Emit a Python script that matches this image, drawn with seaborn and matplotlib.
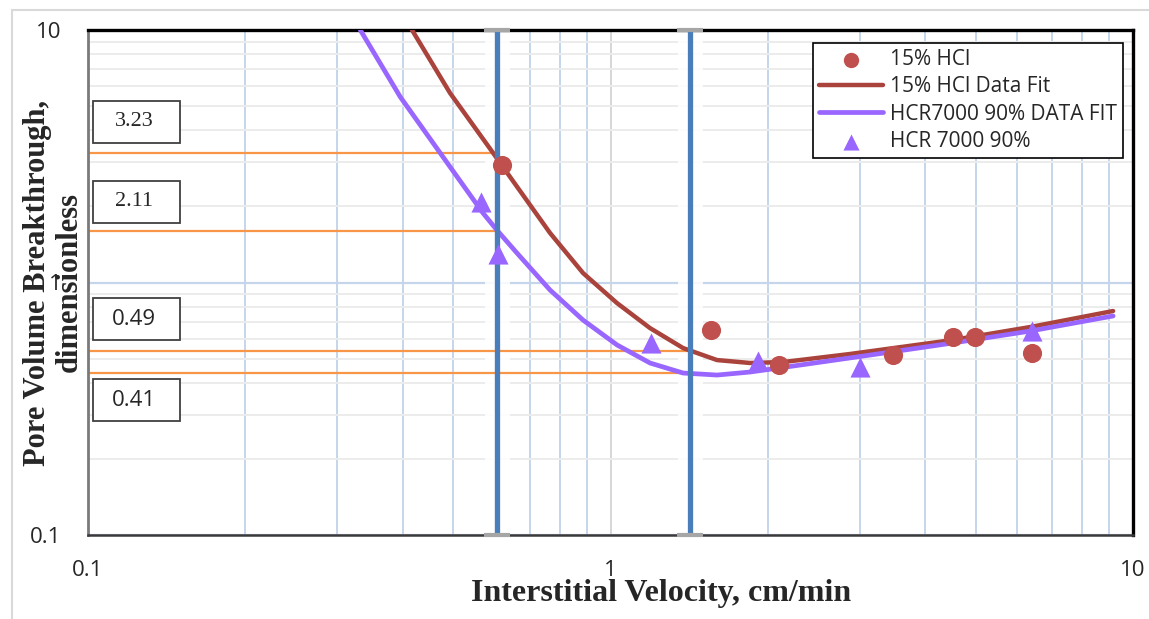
import matplotlib
matplotlib.use("Agg")
import matplotlib.pyplot as plt
from matplotlib.lines import Line2D
from matplotlib.patches import Rectangle
from matplotlib.ticker import LogLocator, NullFormatter, FixedLocator, FixedFormatter
import seaborn as sns
import pandas as pd

# 15% HCl measured points (velocity cm/min, pore volumes to breakthrough)
hcl_velocity = [0.620, 1.557, 2.10, 3.47, 4.52, 4.99, 6.41]
hcl_pvbt = [2.92, 0.648, 0.471, 0.516, 0.608, 0.608, 0.526]

# HCR 7000 90% measured points
hcr_velocity = [0.565, 0.609, 1.195, 1.915, 3.00, 6.41]
hcr_pvbt = [2.08, 1.30, 0.576, 0.489, 0.463, 0.643]

# data fit curves
hcl_fit_velocity = [0.417, 0.493, 0.596, 0.634, 0.766, 0.886, 1.029, 1.190, 1.377,
                    1.599, 1.849, 2.139, 2.873, 4.52, 6.35, 9.16]
hcl_fit_pvbt = [10, 5.63, 3.26, 2.72, 1.571, 1.09, 0.829, 0.660, 0.550,
                0.493, 0.480, 0.484, 0.521, 0.592, 0.666, 0.771]

hcr_fit_velocity = [0.332, 0.396, 0.472, 0.570, 0.606, 0.662, 0.766, 0.886, 1.029,
                    1.190, 1.377, 1.599, 1.849, 2.305, 3.139, 4.52, 6.35, 9.16]
hcr_fit_pvbt = [10, 5.43, 3.26, 1.885, 1.614, 1.309, 0.934, 0.710, 0.566,
                0.480, 0.438, 0.430, 0.442, 0.471, 0.516, 0.576, 0.642, 0.737]

# optimum velocity markers and the PVbt reference lines
optimum_velocity = [0.607, 1.42]
ref_pvbt = [3.26, 1.60, 0.535, 0.438]
ref_end_velocity = [0.607, 0.607, 1.42, 1.42]
ref_labels = ["3.23", "2.11", "0.49", "0.41"]

hcl_df = pd.DataFrame({"velocity": hcl_velocity, "pvbt": hcl_pvbt})
hcr_df = pd.DataFrame({"velocity": hcr_velocity, "pvbt": hcr_pvbt})
hcl_fit = pd.DataFrame({"velocity": hcl_fit_velocity, "pvbt": hcl_fit_pvbt})
hcr_fit = pd.DataFrame({"velocity": hcr_fit_velocity, "pvbt": hcr_fit_pvbt})

sns.set_style("white")
plt.rcParams['font.family'] = ['Open Sans', 'DejaVu Sans']

W, H = 1149, 619
fig = plt.figure(figsize=(W / 100, H / 100), dpi=100)
ax = fig.add_axes([88 / W, (H - 535) / H, 1045 / W, 505 / H])
ax.set_xscale('log')
ax.set_yscale('log')
ax.set_xlim(0.1, 10)
ax.set_ylim(0.1, 10)

# gridlines
ax.xaxis.set_minor_locator(LogLocator(base=10, subs=range(2, 10)))
ax.yaxis.set_minor_locator(LogLocator(base=10, subs=range(2, 10)))
ax.xaxis.set_minor_formatter(NullFormatter())
ax.yaxis.set_minor_formatter(NullFormatter())
ax.xaxis.grid(True, which='minor', color='#c5d6ec', linewidth=1.4, zorder=0)
ax.xaxis.grid(True, which='major', color='#d6d6d6', linewidth=1.4, zorder=0)
ax.yaxis.grid(True, which='minor', color='#ececec', linewidth=1.4, zorder=0)
ax.yaxis.grid(True, which='major', color='#c5d6ec', linewidth=1.6, zorder=0)
ax.set_axisbelow(True)

# optimum velocity lines with their white halo and caps
for v in optimum_velocity:
    ax.axvline(v, color='white', linewidth=18, alpha=0.85, zorder=1)
    ax.axvline(v, color='#4a7ebb', linewidth=3.8, zorder=4)
    ax.plot([v, v], [0.1, 10], linestyle='none', marker='_', markersize=19,
            markeredgewidth=3, color='#a6a6a6', clip_on=False, zorder=5)

# orange reference lines
for yv, xe in zip(ref_pvbt, ref_end_velocity):
    ax.plot([0.1, xe], [yv, yv], color='#f79646', linewidth=1.6, zorder=2)

# fits and data
sns.lineplot(data=hcl_fit, x="velocity", y="pvbt", color='#a9433c', linewidth=3.2,
             label="15% HCl Data Fit", ax=ax, sort=False, zorder=3)
sns.lineplot(data=hcr_fit, x="velocity", y="pvbt", color='#9966ff', linewidth=3.4,
             label="HCR7000 90% DATA FIT", ax=ax, sort=False, zorder=3)
sns.scatterplot(data=hcl_df, x="velocity", y="pvbt", color='#c0504d', s=190,
                marker='o', linewidth=0, label="15% HCl", ax=ax, zorder=6)
sns.scatterplot(data=hcr_df, x="velocity", y="pvbt", color='#9966ff', s=210,
                marker='^', linewidth=0, label="HCR 7000 90%", ax=ax, zorder=6)

# ticks
ax.xaxis.set_major_locator(FixedLocator([0.1, 1, 10]))
ax.xaxis.set_major_formatter(FixedFormatter(["0.1", "1", "10"]))
ax.yaxis.set_major_locator(FixedLocator([0.1, 1, 10]))
ax.yaxis.set_major_formatter(FixedFormatter(["0.1", "1", "10"]))
ax.tick_params(axis='both', which='both', length=0)
ax.tick_params(axis='x', labelsize=16, pad=18)
ax.tick_params(axis='y', labelsize=16, pad=19)

# spines
for side in ['top', 'right']:
    ax.spines[side].set_color('black')
    ax.spines[side].set_linewidth(2.4)
ax.spines['left'].set_color('#7a7a7a')
ax.spines['left'].set_linewidth(2)
ax.spines['bottom'].set_color('#3a3a3a')
ax.spines['bottom'].set_linewidth(1.8)

# axis titles
ax.set_xlabel("Interstitial Velocity, cm/min", family='Liberation Serif',
              fontweight='bold', fontsize=23)
ax.xaxis.set_label_coords(0.548, -0.088)
ax.set_ylabel("Pore Volume Breakthrough,\ndimensionless", family='Liberation Serif',
              fontweight='bold', fontsize=22, linespacing=1.12)
ax.yaxis.set_label_coords(-0.004, 0.5)

# legend
handles, labels = ax.get_legend_handles_labels()
order = ["15% HCl", "15% HCl Data Fit", "HCR7000 90% DATA FIT", "HCR 7000 90%"]
hmap = dict(zip(labels, handles))
leg = ax.legend([hmap[k] for k in order], order, loc='upper right',
                bbox_to_anchor=(0.9904, 0.9743), fontsize=15, frameon=True,
                fancybox=False, edgecolor='black', framealpha=1,
                handlelength=3.1, handletextpad=0.3, borderpad=0.3,
                labelspacing=0.3, markerscale=0.8, borderaxespad=0)
leg.get_frame().set_linewidth(1.2)
leg.set_zorder(10)


def px(x, y):
    return x / W, 1 - y / H


# value boxes on the left
box_tops = [101, 181, 298, 379]
box_fonts = ['Liberation Serif', 'Liberation Serif', 'Open Sans', 'Open Sans']
for top, lab, fam in zip(box_tops, ref_labels, box_fonts):
    x0, y0 = px(93, top + 42)
    rect = Rectangle((x0, y0), 87 / W, 42 / H, transform=fig.transFigure,
                     facecolor='white', edgecolor='#404040', linewidth=1.3, zorder=8)
    fig.add_artist(rect)
    cx, cy = px(134, top + 21)
    fig.text(cx, cy, lab, ha='center', va='center', fontsize=16, family=fam, zorder=9)

# light outer frame
fig.add_artist(Line2D([12 / W, 12 / W], [0, 1 - 10 / H], transform=fig.transFigure,
                      color='#d9d9d9', linewidth=1.5))
fig.add_artist(Line2D([12 / W, 1], [1 - 10 / H, 1 - 10 / H], transform=fig.transFigure,
                      color='#d9d9d9', linewidth=1.5))

fig.savefig("out.png", dpi=100)
